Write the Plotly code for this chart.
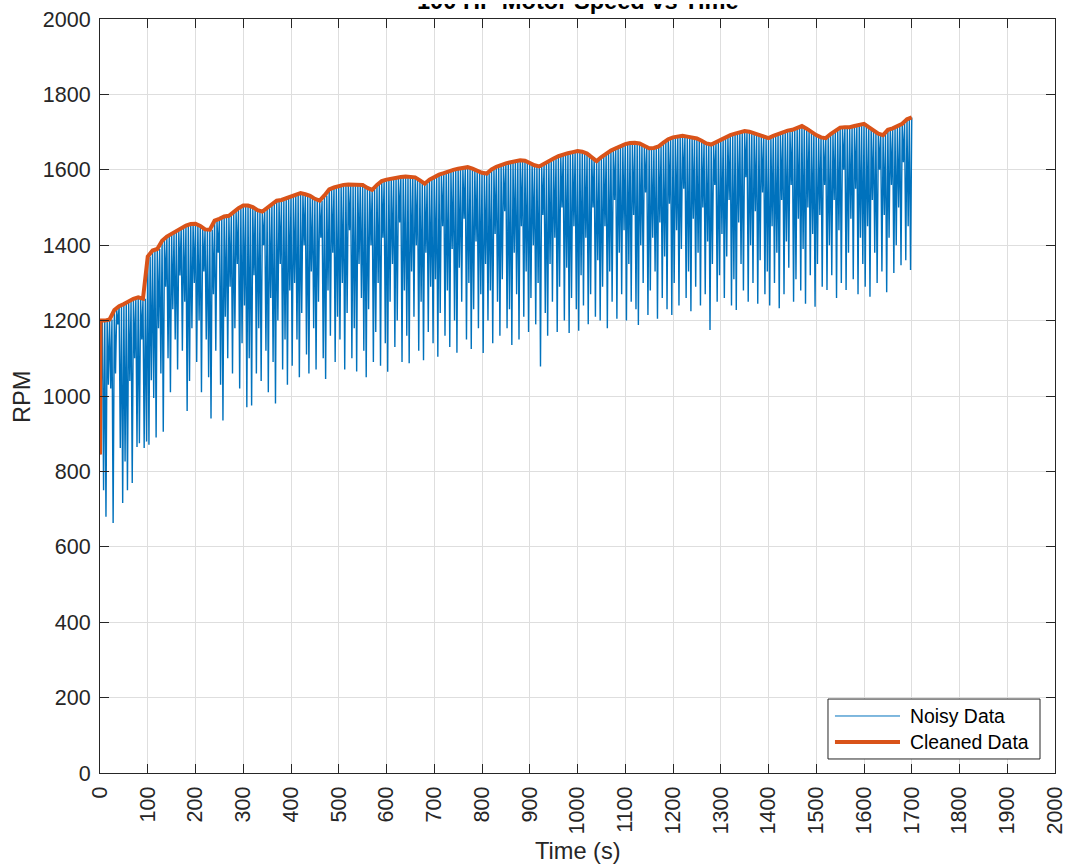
import plotly.graph_objects as go

# Cleaned motor speed (RPM): a start-up point, then one value every 10 s
clean_t = [0, 1] + list(range(10, 1701, 10))
clean_rpm = [
    845, 1200,
    1200, 1203, 1228, 1238, 1244, 1251, 1258, 1262, 1258, 1370,
    1386, 1390, 1412, 1423, 1431, 1438, 1447, 1452, 1456, 1457,
    1451, 1442, 1441, 1465, 1470, 1476, 1478, 1489, 1498, 1505,
    1505, 1501, 1493, 1489, 1498, 1510, 1518, 1520, 1525, 1529,
    1533, 1538, 1535, 1531, 1523, 1518, 1532, 1548, 1553, 1557,
    1560, 1561, 1561, 1561, 1560, 1552, 1547, 1560, 1570, 1574,
    1577, 1579, 1581, 1582, 1582, 1580, 1572, 1563, 1574, 1582,
    1587, 1591, 1596, 1600, 1603, 1606, 1607, 1603, 1598, 1592,
    1590, 1601, 1608, 1613, 1617, 1620, 1623, 1625, 1624, 1618,
    1612, 1609, 1617, 1625, 1630, 1636, 1641, 1644, 1647, 1650,
    1648, 1643, 1633, 1623, 1634, 1643, 1651, 1657, 1664, 1668,
    1671, 1672, 1670, 1664, 1657, 1658, 1662, 1672, 1681, 1686,
    1689, 1690, 1688, 1686, 1683, 1677, 1670, 1667, 1673, 1680,
    1687, 1692, 1696, 1700, 1703, 1701, 1697, 1692, 1687, 1684,
    1690, 1695, 1700, 1704, 1706, 1712, 1716, 1709, 1700, 1692,
    1686, 1684, 1695, 1704, 1712, 1713, 1713, 1716, 1720, 1722,
    1713, 1704, 1696, 1692, 1706, 1710, 1715, 1722, 1734, 1739,
]

# Low readings of the raw sensor signal, one dropout every 5 s (RPM)
noisy_dips = [
    1020, 750, 680, 1030, 1020, 663, 1060, 1190, 862, 716,
    826, 750, 1040, 769, 1100, 865, 875, 1150, 862, 879,
    871, 1042, 995, 890, 1180, 1060, 905, 1290, 1100, 1010,
    1230, 1150, 1070, 1320, 1120, 1250, 960, 1040, 1180, 1300,
    1090, 1200, 1010, 1330, 1150, 1050, 940, 1270, 1120, 1380,
    1030, 935, 1210, 1100, 1290, 1060, 1180, 1350, 1020, 1140,
    1240, 970, 1100, 975, 1320, 1060, 1180, 1040, 1400, 1120,
    1010, 1260, 1090, 980, 1200, 1350, 1070, 1150, 1030, 1280,
    1080, 1300, 1150, 1050, 1220, 1400, 1110, 1060, 1330, 1180,
    1070, 1250, 1420, 1100, 1045, 1280, 1160, 1380, 1090, 1210,
    1150, 1300, 1070, 1220, 1440, 1100, 1180, 1065, 1350, 1260,
    1120, 1050, 1230, 1400, 1090, 1170, 1300, 1080, 1420, 1140,
    1064, 1250, 1350, 1130, 1200, 1460, 1090, 1280, 1160, 1087,
    1330, 1210, 1400, 1120, 1250, 1095, 1380, 1170, 1290, 1140,
    1310, 1104, 1220, 1450, 1160, 1280, 1130, 1390, 1200, 1115,
    1340, 1250, 1470, 1150, 1300, 1125, 1230, 1410, 1180, 1270,
    1114, 1350, 1200, 1280, 1140, 1430, 1250, 1160, 1310, 1490,
    1180, 1230, 1135, 1380, 1270, 1150, 1450, 1210, 1330, 1170,
    1260, 1400, 1190, 1300, 1078, 1480, 1220, 1160, 1350, 1250,
    1420, 1170, 1290, 1500, 1200, 1340, 1167, 1260, 1450, 1230,
    1173, 1320, 1240, 1420, 1190, 1270, 1500, 1210, 1360, 1200,
    1290, 1450, 1180, 1330, 1250, 1520, 1205, 1380, 1270, 1440,
    1200, 1350, 1250, 1480, 1230, 1188, 1400, 1300, 1540, 1215,
    1280, 1420, 1330, 1205, 1460, 1260, 1370, 1230, 1510, 1215,
    1300, 1440, 1240, 1390, 1550, 1260, 1330, 1225, 1470, 1290,
    1380, 1240, 1500, 1270, 1410, 1175, 1350, 1560, 1250, 1320,
    1430, 1260, 1370, 1520, 1240, 1310, 1228, 1460, 1350, 1280,
    1580, 1250, 1400, 1300, 1490, 1245, 1360, 1540, 1270, 1330,
    1240, 1450, 1300, 1380, 1233, 1520, 1270, 1410, 1340, 1560,
    1250, 1310, 1470, 1280, 1390, 1245, 1500, 1320, 1430, 1237,
    1350, 1480, 1290, 1560, 1281, 1400, 1320, 1520, 1260, 1440,
    1300, 1600, 1281, 1380, 1470, 1310, 1550, 1270, 1420, 1350,
    1290, 1450, 1263, 1520, 1380, 1300, 1600, 1330, 1480, 1275,
    1420, 1560, 1326, 1400, 1500, 1347, 1620, 1360, 1450, 1334,
]
dip_step = 5

x_ticks = list(range(0, 2001, 100))
y_ticks = list(range(0, 2001, 200))

# Raw trace: steady reading at the cleaned level, dropping to each dip
level_at = dict(zip(clean_t, clean_rpm))
noisy_t, noisy_rpm = [clean_t[0]], [clean_rpm[0]]
for i, dip in enumerate(noisy_dips):
    t0 = i * dip_step
    key = 10 * (t0 // 10) if t0 >= 10 else 1
    noisy_t += [t0, t0 + dip_step / 2]
    noisy_rpm += [level_at[key], dip]
noisy_t.append(clean_t[-1])
noisy_rpm.append(clean_rpm[-1])

BLUE = "#0072BD"
ORANGE = "#D95319"
INK = "#262626"
FONT = "Liberation Sans, Arial, Helvetica, sans-serif"

fig = go.Figure()
fig.add_trace(go.Scatter(x=noisy_t, y=noisy_rpm, mode="lines",
                         line=dict(color=BLUE, width=1.4), name="Noisy Data",
                         showlegend=False))
fig.add_trace(go.Scatter(x=clean_t, y=clean_rpm, mode="lines",
                         line=dict(color=ORANGE, width=4), name="Cleaned Data",
                         showlegend=False))

axis_style = dict(
    ticks="inside", ticklen=9, tickwidth=1, tickcolor=INK,
    showline=True, linecolor=INK, linewidth=1, mirror="ticks",
    showgrid=True, gridcolor="#DEDEDE", gridwidth=1, zeroline=False,
    automargin=False,
    tickfont=dict(family=FONT, size=21.5, color=INK),
)
fig.update_xaxes(range=[0, 2000], tickvals=x_ticks,
                 ticktext=[str(v) for v in x_ticks], tickangle=-90,
                 ticklabelstandoff=4, **axis_style)
fig.update_yaxes(range=[0, 2000], tickvals=y_ticks,
                 ticktext=[str(v) for v in y_ticks],
                 ticklabelstandoff=4, **axis_style)

# Legend box drawn in paper coordinates
lx0, lx1, ly0, ly1 = 0.7623, 0.9843, 0.0186, 0.0981
shapes = [
    dict(type="rect", xref="paper", yref="paper", x0=lx0, x1=lx1, y0=ly0, y1=ly1,
         line=dict(color=INK, width=1), fillcolor="white", layer="above"),
    dict(type="line", xref="paper", yref="paper", x0=0.7696, x1=0.8377,
         y0=0.0756, y1=0.0756, line=dict(color=BLUE, width=1), layer="above"),
    dict(type="line", xref="paper", yref="paper", x0=0.7696, x1=0.8377,
         y0=0.0411, y1=0.0411, line=dict(color=ORANGE, width=4), layer="above"),
]
annotations = [
    dict(text="Noisy Data", xref="paper", yref="paper", x=0.8461, y=0.0756,
         xanchor="left", yanchor="middle", showarrow=False,
         font=dict(family=FONT, size=19.4, color="black")),
    dict(text="Cleaned Data", xref="paper", yref="paper", x=0.8461, y=0.0411,
         xanchor="left", yanchor="middle", showarrow=False,
         font=dict(family=FONT, size=19.4, color="black")),
    # chart title, sitting right against the top edge of the figure
    dict(text="<b>100 HP Motor Speed vs Time</b>", xref="paper", yref="paper",
         x=0.5, y=1.0040, xanchor="center", yanchor="bottom", showarrow=False,
         font=dict(family=FONT, size=23.6, color="black")),
    # white band over the upper part of the title row
    dict(text=" ", xref="paper", yref="paper", x=0.5, y=1.0279,
         xanchor="center", yanchor="top", showarrow=False,
         width=430, height=6, bgcolor="white", borderpad=0, borderwidth=0,
         font=dict(family=FONT, size=4, color="white")),
    dict(text="RPM", xref="paper", yref="paper", x=-0.0817, y=0.4987,
         xanchor="center", yanchor="middle", textangle=-90, showarrow=False,
         font=dict(family=FONT, size=23.6, color=INK)),
    dict(text="Time (s)", xref="paper", yref="paper", x=0.5005, y=-0.1034,
         xanchor="center", yanchor="middle", showarrow=False,
         font=dict(family=FONT, size=23.6, color=INK)),
]

fig.update_layout(
    width=1070, height=865,
    margin=dict(l=100, r=15, t=19, b=92),
    plot_bgcolor="white", paper_bgcolor="white",
    font=dict(family=FONT, color=INK),
    shapes=shapes, annotations=annotations, showlegend=False,
)

fig.write_html("out.html")
